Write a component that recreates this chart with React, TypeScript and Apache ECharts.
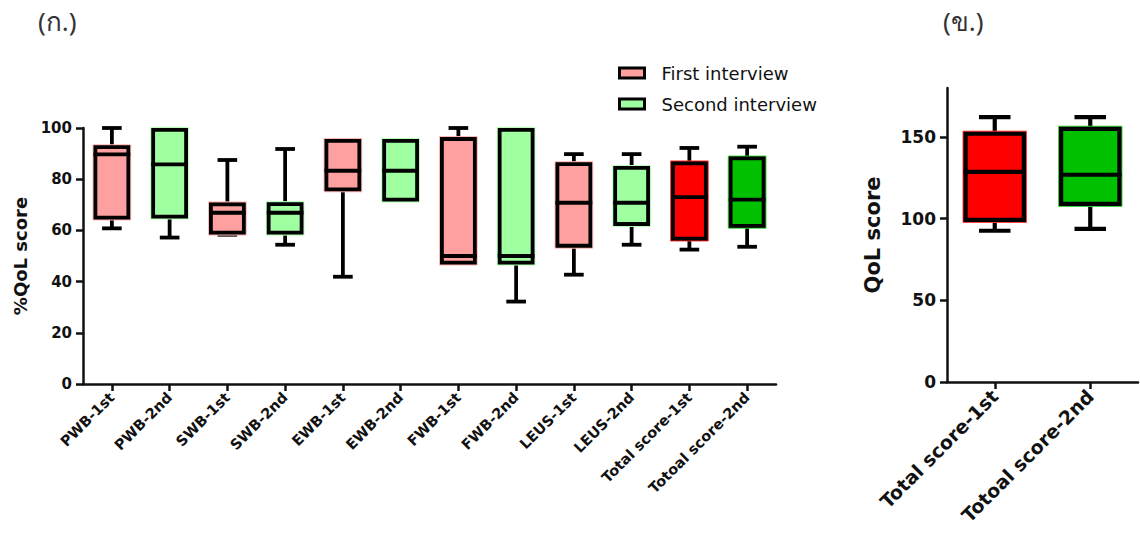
import React, { useEffect, useRef } from "react";
import * as echarts from "echarts";

// Quality-of-life domains, first and second interview
const categories = [
  "PWB-1st", "PWB-2nd", "SWB-1st", "SWB-2nd", "EWB-1st", "EWB-2nd",
  "FWB-1st", "FWB-2nd", "LEUS-1st", "LEUS-2nd", "Total score-1st", "Totoal score-2nd",
];
const minValues = [60.8, 57.2, 58.3, 54.4, 41.9, 72, 47.4, 32.2, 42.7, 54.4, 52.5, 53.6];
const q1Values = [65, 65.4, 59.1, 59.1, 76, 72, 47.4, 47.4, 54, 62.5, 56.8, 61.8];
const medianValues = [89.7, 85.8, 66.9, 66.9, 83.3, 83.3, 50, 50, 70.8, 70.8, 73, 72];
const q3Values = [92.5, 99.3, 70.2, 70.3, 95, 95, 95.7, 99.3, 85.9, 84.4, 86.2, 88.1];
const maxValues = [100, 99.3, 87.5, 91.8, 95, 95, 100, 99.3, 89.8, 89.8, 92.2, 92.7];
const boxColors = [
  "#FFA0A0", "#A0FFA0", "#FFA0A0", "#A0FFA0", "#FFA0A0", "#A0FFA0",
  "#FFA0A0", "#A0FFA0", "#FFA0A0", "#A0FFA0", "#FF0000", "#00C000",
];

// Raw total QoL score
const totalCategories = ["Total score-1st", "Totoal score-2nd"];
const totalMin = [92.6, 93.8];
const totalQ1 = [99.3, 109.1];
const totalMedian = [128.7, 126.9];
const totalQ3 = [152, 155];
const totalMax = [162.2, 162.2];
const totalColors = ["#FF0000", "#00C000"];

const legendNames = ["First interview", "Second interview"];
const legendColors = ["#FFA0A0", "#A0FFA0"];

const FONT = "'DejaVu Sans', 'Liberation Sans', sans-serif";

function boxRenderer(boxRatio: number, capRatio: number, lw: number) {
  return (params: any, api: any) => {
    const i = api.value(0);
    const pMin = api.coord([i, api.value(1)]);
    const pQ1 = api.coord([i, api.value(2)]);
    const pMed = api.coord([i, api.value(3)]);
    const pQ3 = api.coord([i, api.value(4)]);
    const pMax = api.coord([i, api.value(5)]);
    const band = api.size([1, 0])[0];
    const bw = band * boxRatio;
    const cw = band * capRatio;
    const cx = pMin[0];
    const fill = api.visual("color");
    const edge = echarts.color.lift(fill, 0.25);
    const black = { stroke: "#000", lineWidth: lw };
    return {
      type: "group",
      children: [
        { type: "line", shape: { x1: cx, y1: pQ3[1], x2: cx, y2: pMax[1] }, style: black },
        { type: "line", shape: { x1: cx - cw / 2, y1: pMax[1], x2: cx + cw / 2, y2: pMax[1] }, style: black },
        { type: "line", shape: { x1: cx, y1: pQ1[1], x2: cx, y2: pMin[1] }, style: black },
        { type: "line", shape: { x1: cx - cw / 2, y1: pMin[1], x2: cx + cw / 2, y2: pMin[1] }, style: black },
        {
          type: "rect",
          shape: { x: cx - bw / 2 - lw / 2 - 0.5, y: pQ3[1] - lw / 2 - 0.5, width: bw + lw + 1, height: pQ1[1] - pQ3[1] + lw + 1 },
          style: { fill, stroke: edge, lineWidth: 1 },
        },
        {
          type: "rect",
          shape: { x: cx - bw / 2, y: pQ3[1], width: bw, height: pQ1[1] - pQ3[1] },
          style: { fill: "none", stroke: "#000", lineWidth: lw },
        },
        { type: "line", shape: { x1: cx - bw / 2 - lw / 2, y1: pMed[1], x2: cx + bw / 2 + lw / 2, y2: pMed[1] }, style: black },
      ],
    };
  };
}

function boxData(indices: number[], mins: number[], q1: number[], med: number[], q3: number[], maxs: number[], colors: string[]) {
  return indices.map((i) => ({
    value: [i, mins[i], q1[i], med[i], q3[i], maxs[i]],
    itemStyle: { color: colors[i] },
  }));
}

export default function App() {
  const ref = useRef<HTMLDivElement>(null);

  useEffect(() => {
    if (!ref.current) return;
    const chart = echarts.init(ref.current, undefined, { renderer: "svg" });

    const axisLine = { show: true, lineStyle: { color: "#111", width: 2.5 } };
    const axisTick = { show: true, length: 7, lineStyle: { color: "#111", width: 2.5 } };

    const firstIdx = [0, 2, 4, 6, 8, 10];
    const secondIdx = [1, 3, 5, 7, 9, 11];

    chart.setOption({
      animation: false,
      backgroundColor: "#fff",
      grid: [
        { left: 83, top: 128, width: 693, height: 256 },
        { left: 947, top: 88, width: 191, height: 294 },
      ],
      legend: {
        orient: "vertical",
        left: 613,
        top: 59,
        itemWidth: 25,
        itemHeight: 10,
        itemGap: 13,
        selectedMode: false,
        textStyle: { fontFamily: FONT, fontSize: 18, color: "#111", padding: [0, 0, 0, 12] },
        data: legendNames.map((n, k) => ({
          name: n,
          icon: "rect",
          itemStyle: { color: legendColors[k], borderColor: "#000", borderWidth: 3 },
        })),
      },
      xAxis: [
        {
          type: "category",
          gridIndex: 0,
          data: categories,
          axisLine,
          axisTick: { ...axisTick, alignWithLabel: true },
          axisLabel: {
            interval: 0,
            rotate: 45,
            margin: 11,
            fontFamily: FONT,
            fontWeight: "bold",
            fontSize: 14.5,
            color: "#111",
          },
        },
        {
          type: "category",
          gridIndex: 1,
          data: totalCategories,
          axisLine,
          axisTick: { ...axisTick, alignWithLabel: true },
          axisLabel: {
            interval: 0,
            rotate: 45,
            margin: 11,
            fontFamily: FONT,
            fontWeight: "bold",
            fontSize: 19,
            color: "#111",
          },
        },
      ],
      yAxis: [
        {
          type: "value",
          gridIndex: 0,
          min: 0,
          max: 100,
          interval: 20,
          splitLine: { show: false },
          axisLine,
          axisTick,
          axisLabel: { fontFamily: FONT, fontWeight: "bold", fontSize: 15, color: "#111", margin: 11 },
          name: "%QoL score",
          nameLocation: "middle",
          nameGap: 54,
          nameTextStyle: { fontFamily: FONT, fontWeight: "bold", fontSize: 18, color: "#111" },
        },
        {
          type: "value",
          gridIndex: 1,
          min: 0,
          max: 180,
          interval: 50,
          splitLine: { show: false },
          axisLine,
          axisTick: { ...axisTick, customValues: [0, 50, 100, 150] },
          axisLabel: {
            fontFamily: FONT,
            fontWeight: "bold",
            fontSize: 17,
            color: "#111",
            margin: 11,
            customValues: [0, 50, 100, 150],
          },
          name: "QoL score",
          nameLocation: "middle",
          nameGap: 64,
          nameTextStyle: { fontFamily: FONT, fontWeight: "bold", fontSize: 21, color: "#111" },
        },
      ],
      series: [
        {
          name: legendNames[0],
          type: "custom",
          xAxisIndex: 0,
          yAxisIndex: 0,
          itemStyle: { color: legendColors[0] },
          encode: { x: 0, y: [1, 2, 3, 4, 5] },
          renderItem: boxRenderer(0.57, 0.34, 3.8),
          data: boxData(firstIdx, minValues, q1Values, medianValues, q3Values, maxValues, boxColors),
        },
        {
          name: legendNames[1],
          type: "custom",
          xAxisIndex: 0,
          yAxisIndex: 0,
          itemStyle: { color: legendColors[1] },
          encode: { x: 0, y: [1, 2, 3, 4, 5] },
          renderItem: boxRenderer(0.57, 0.34, 3.8),
          data: boxData(secondIdx, minValues, q1Values, medianValues, q3Values, maxValues, boxColors),
        },
        {
          name: "Total score",
          type: "custom",
          xAxisIndex: 1,
          yAxisIndex: 1,
          itemStyle: { color: totalColors[0] },
          encode: { x: 0, y: [1, 2, 3, 4, 5] },
          renderItem: boxRenderer(0.61, 0.33, 4.2),
          data: boxData([0, 1], totalMin, totalQ1, totalMedian, totalQ3, totalMax, totalColors),
        },
      ],
      graphic: [
        {
          type: "text",
          left: 38,
          top: 8,
          style: { text: "(ก.)", fontSize: 26, fill: "#333", fontFamily: "'Noto Sans', sans-serif" },
        },
        {
          type: "text",
          left: 943,
          top: 8,
          style: { text: "(ข.)", fontSize: 26, fill: "#333", fontFamily: "'Noto Sans', sans-serif" },
        },
      ],
    });

    return () => chart.dispose();
  }, []);

  return (
    <div
      ref={ref}
      style={{ position: "absolute", left: 0, top: 0, width: 1140, height: 540, background: "#fff" }}
    />
  );
}
